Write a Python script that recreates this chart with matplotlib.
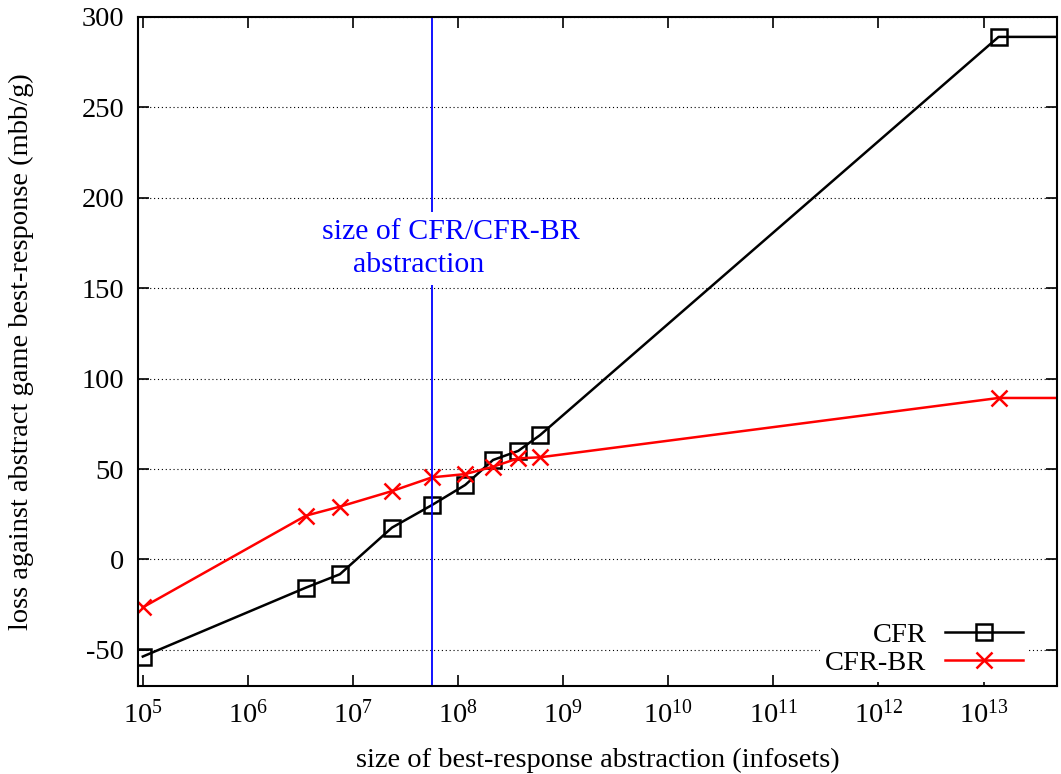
import matplotlib
matplotlib.use("Agg")
import matplotlib.pyplot as plt
from matplotlib.ticker import FixedLocator, NullLocator, LogFormatterMathtext

plt.rcParams['font.family'] = ['Liberation Serif', 'DejaVu Serif']
plt.rcParams['mathtext.fontset'] = 'custom'
plt.rcParams['mathtext.rm'] = 'Liberation Serif'
plt.rcParams['axes.unicode_minus'] = False

# best-response abstraction sizes (infosets); last entry lies beyond the axis
sizes = [1.0e5, 3.56e6, 7.5e6, 2.35e7, 5.65e7, 1.17e8, 2.15e8, 3.73e8, 6.04e8, 1.39e13, 1e15]
cfr = [-53.7, -15.6, -8.2, 17.6, 30.1, 41.2, 55.0, 60.0, 68.8, 289.0, 289.0]
cfr_br = [-26.5, 24.2, 29.2, 37.8, 45.4, 47.2, 51.3, 55.9, 56.5, 89.3, 89.3]
abstraction_size = 5.65e7
x_ticks = [10.0 ** k for k in range(5, 14)]
y_ticks = [-50, 0, 50, 100, 150, 200, 250, 300]

fs = 20.5

fig = plt.figure(figsize=(10.61, 7.74), dpi=100)
ax = fig.add_axes([138 / 1061, 1 - 686 / 774, (1057 - 138) / 1061, (686 - 17) / 774])

ax.plot(sizes, cfr, color='black', lw=1.8, marker='s', ms=11.5, mfc='none', mew=1.8, label='CFR')
ax.plot(sizes, cfr_br, color='red', lw=1.8, marker='x', ms=11.5, mew=1.8, label='CFR-BR')
ax.axvline(abstraction_size, color='blue', lw=1.3)

box = dict(facecolor='white', edgecolor='none', pad=5)
ax.text(8.57e7, 181, 'size of CFR/CFR-BR', color='blue', fontsize=21.5, ha='center', va='center', bbox=box)
ax.text(4.2e7, 163, 'abstraction', color='blue', fontsize=21.5, ha='center', va='center', bbox=box)

ax.set_xscale('log')
ax.set_xlim(9e4, 5e13)
ax.set_ylim(-70, 300)
ax.xaxis.set_major_locator(FixedLocator(x_ticks))
ax.xaxis.set_minor_locator(NullLocator())
ax.xaxis.set_major_formatter(LogFormatterMathtext())
ax.set_yticks(y_ticks)

ax.grid(axis='y', color='black', ls=(0, (1, 2.5)), lw=0.8)
ax.tick_params(direction='in', top=True, right=True, length=8, width=1.2, labelsize=fs, pad=10)
for s in ax.spines.values():
    s.set_linewidth(1.5)

ax.set_xlabel('size of best-response abstraction (infosets)', fontsize=fs, labelpad=14)
ax.set_ylabel('loss against abstract game best-response (mbb/g)', fontsize=fs, labelpad=34)

leg = ax.legend(loc='lower right', bbox_to_anchor=(1 - 28 / 919, 4 / 669), frameon=True,
                markerfirst=False, fontsize=fs, handlelength=2.75, borderaxespad=0.0,
                borderpad=0.2, labelspacing=0.1, handletextpad=0.65, fancybox=False)
leg.get_frame().set_edgecolor('none')
leg.get_frame().set_facecolor('white')
leg.get_frame().set_alpha(1)

fig.savefig('out.png', dpi=100)
